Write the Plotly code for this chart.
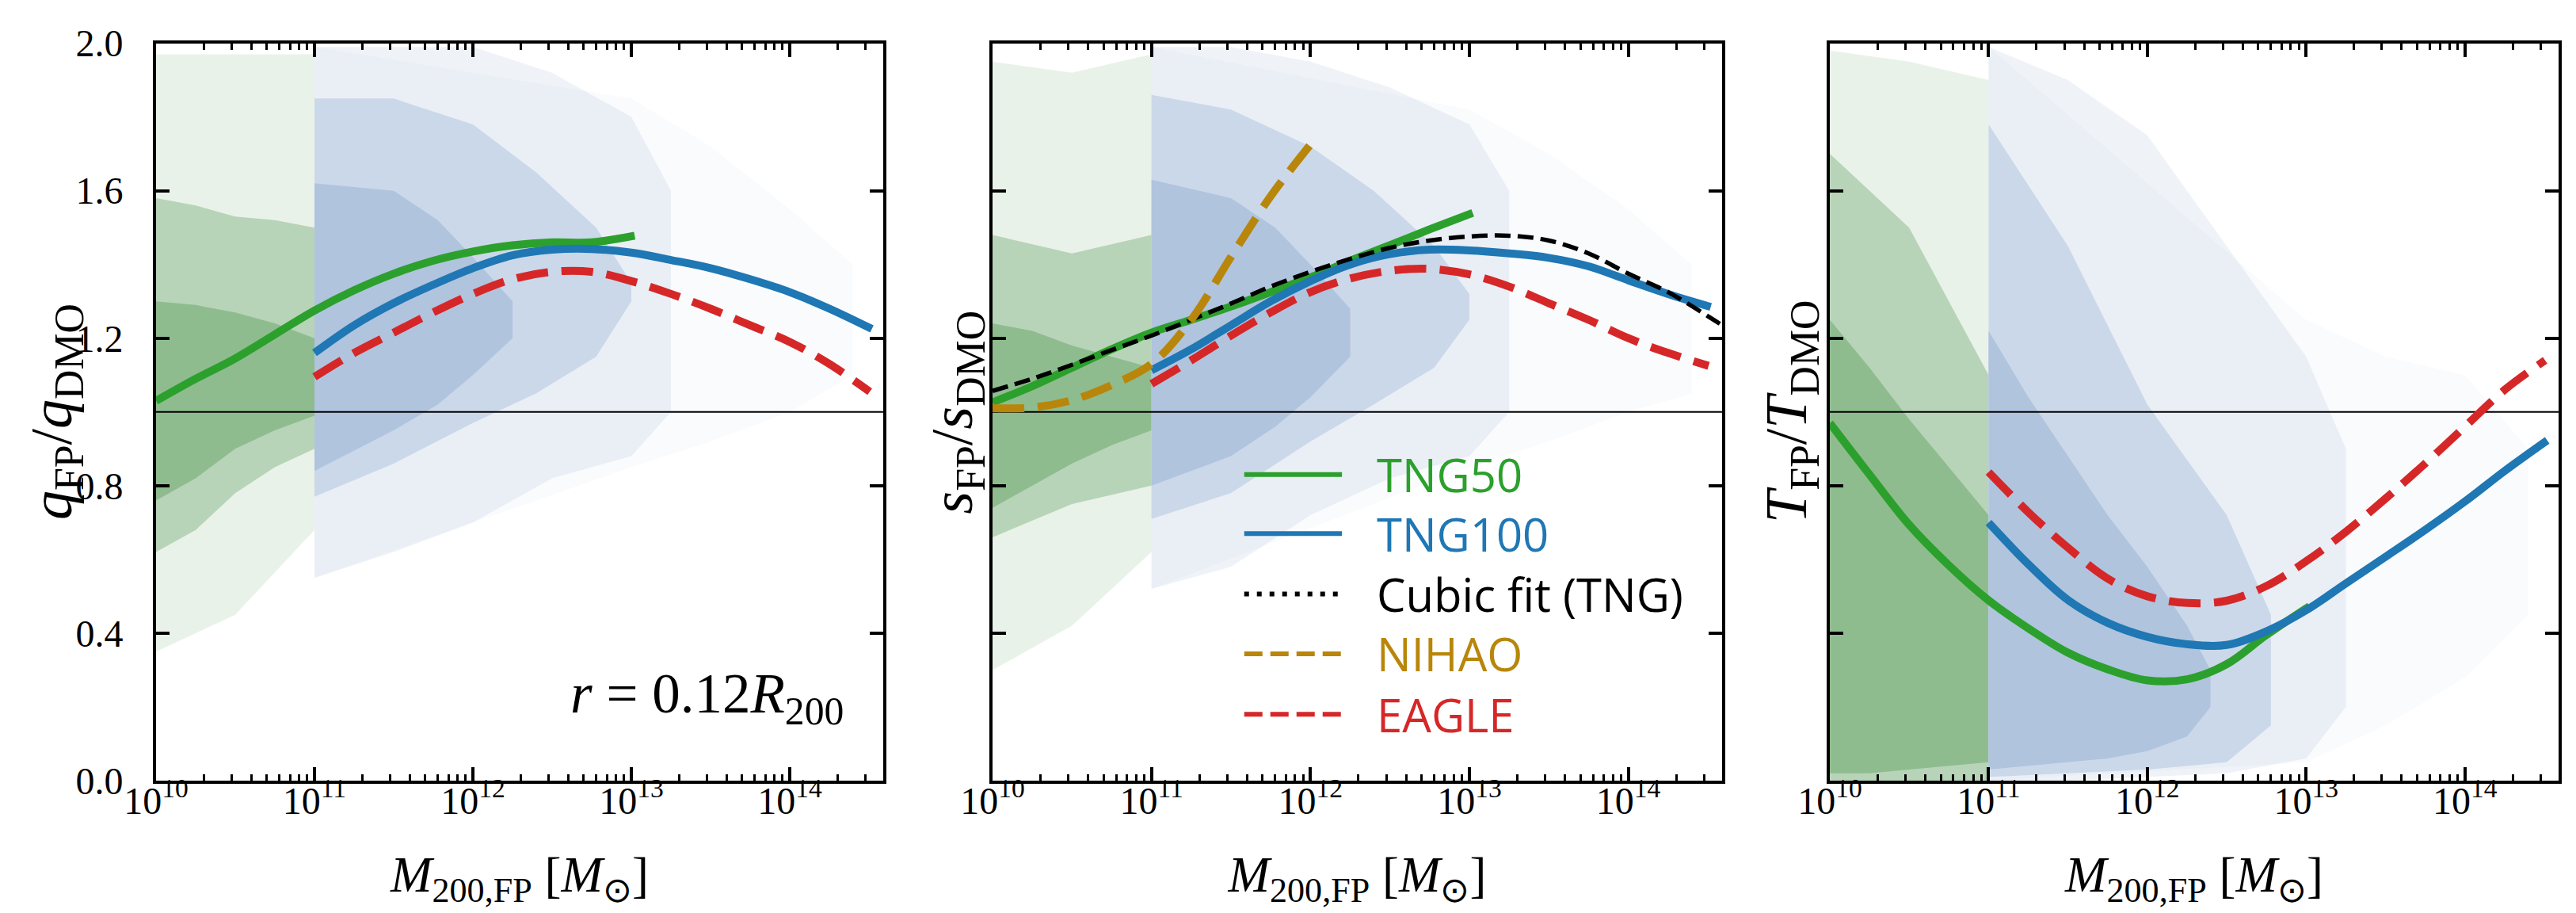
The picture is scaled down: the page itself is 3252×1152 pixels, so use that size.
import plotly.graph_objects as go
from plotly.subplots import make_subplots

M_TNG50 = [1e10, 1.78e10, 3.16e10, 5.62e10, 1e11, 1.78e11, 3.16e11, 5.62e11,
           1e12, 1.78e12, 3.16e12, 5.62e12, 1.05e13]
M_TNG100 = [1e11, 1.78e11, 3.16e11, 5.62e11, 1e12, 1.78e12, 3.16e12, 5.62e12,
            1e13, 1.78e13, 3.16e13, 5.62e13, 1e14, 1.78e14, 3.3e14]
M_EAGLE = [1e11, 1.78e11, 3.16e11, 5.62e11, 1e12, 1.78e12, 3.16e12, 5.62e12,
           1e13, 1.78e13, 3.16e13, 5.62e13, 1e14, 1.78e14, 3.2e14]
M_NIHAO = [1e10, 1.78e10, 3.16e10, 5.62e10, 1e11, 1.78e11, 3.16e11, 5.62e11, 1e12]
M_CUBIC = [1e10, 1.78e10, 3.16e10, 5.62e10, 1e11, 1.78e11, 3.16e11, 5.62e11,
           1e12, 1.78e12, 3.16e12, 5.62e12, 1e13, 1.78e13, 3.16e13, 5.62e13,
           1e14, 1.78e14, 3.16e14, 3.9e14]

# q_FP / q_DMO
Q_TNG50 = [1.03, 1.09, 1.145, 1.21, 1.275, 1.33, 1.375, 1.41, 1.435, 1.452, 1.46, 1.46, 1.478]
Q_TNG100 = [1.16, 1.235, 1.295, 1.345, 1.39, 1.425, 1.44, 1.442, 1.432, 1.412, 1.39, 1.36,
            1.325, 1.28, 1.225]
Q_EAGLE = [1.095, 1.16, 1.215, 1.27, 1.32, 1.36, 1.38, 1.38, 1.355, 1.32, 1.28, 1.235,
           1.19, 1.13, 1.055]

# s_FP / s_DMO
S_TNG50 = [1.026, 1.07, 1.12, 1.17, 1.215, 1.25, 1.286, 1.325, 1.365, 1.41, 1.452, 1.495, 1.54]
S_TNG100 = [1.113, 1.17, 1.235, 1.30, 1.355, 1.40, 1.428, 1.44, 1.438, 1.43, 1.418, 1.395,
            1.357, 1.32, 1.285]
S_EAGLE = [1.076, 1.14, 1.207, 1.27, 1.325, 1.362, 1.383, 1.388, 1.373, 1.34, 1.295, 1.25,
           1.2, 1.16, 1.125]
S_NIHAO = [1.01, 1.012, 1.032, 1.073, 1.13, 1.25, 1.42, 1.585, 1.725]
S_CUBIC = [1.057, 1.09, 1.128, 1.168, 1.207, 1.25, 1.294, 1.34, 1.38, 1.415, 1.445, 1.465,
           1.476, 1.478, 1.465, 1.43, 1.375, 1.325, 1.26, 1.235]

# T_FP / T_DMO
T_TNG50 = [0.97, 0.83, 0.694, 0.584, 0.489, 0.413, 0.347, 0.302, 0.272, 0.275, 0.316, 0.395, 0.473]
T_TNG100 = [0.70, 0.587, 0.49, 0.428, 0.39, 0.37, 0.368, 0.405, 0.462, 0.535, 0.607, 0.68,
            0.757, 0.84, 0.923]
T_EAGLE = [0.837, 0.728, 0.632, 0.548, 0.5, 0.482, 0.488, 0.528, 0.595, 0.675, 0.765, 0.86,
           0.96, 1.06, 1.14]

# halo clouds, read as density bands: (mass, lower edge, upper edge)
Q_GREEN_CORE = [(1e10, 0.76, 1.30), (1.78e10, 0.82, 1.29), (3.16e10, 0.90, 1.27),
                (5.62e10, 0.95, 1.24), (1e11, 0.99, 1.20)]
Q_GREEN_MID = [(1e10, 0.62, 1.58), (1.78e10, 0.68, 1.56), (3.16e10, 0.78, 1.53),
               (5.62e10, 0.85, 1.52), (1e11, 0.90, 1.50)]
Q_GREEN_SPARSE = [(1e10, 0.35, 1.97), (3.16e10, 0.45, 1.97), (1e11, 0.68, 1.97)]
Q_BLUE_CORE = [(1e11, 0.84, 1.62), (3.16e11, 0.95, 1.60), (6e11, 1.02, 1.52),
               (1e12, 1.10, 1.42), (1.78e12, 1.20, 1.30)]
Q_BLUE_MID = [(1e11, 0.77, 1.85), (3.16e11, 0.86, 1.85), (1e12, 0.97, 1.78),
              (2.5e12, 1.05, 1.65), (6e12, 1.15, 1.50), (1e13, 1.30, 1.35)]
Q_BLUE_SPARSE = [(1e11, 0.55, 1.99), (3.16e11, 0.62, 1.99), (1e12, 0.70, 1.99),
                 (3.16e12, 0.82, 1.92), (1e13, 0.88, 1.80), (1.78e13, 1.0, 1.6)]
Q_BLUE_FAINT = [(1e11, 0.55, 1.99), (1e13, 0.85, 1.85), (3.16e13, 0.92, 1.72),
                (1e14, 1.0, 1.55), (2.5e14, 1.1, 1.4)]

S_GREEN_CORE = [(1e10, 0.74, 1.24), (1.78e10, 0.80, 1.22), (3.16e10, 0.86, 1.18),
                (5.62e10, 0.91, 1.15), (1e11, 0.95, 1.12)]
S_GREEN_MID = [(1e10, 0.66, 1.48), (3.16e10, 0.75, 1.43), (1e11, 0.80, 1.48)]
S_GREEN_SPARSE = [(1e10, 0.30, 1.95), (3.16e10, 0.42, 1.92), (1e11, 0.62, 1.97)]
S_BLUE_CORE = [(1e11, 0.80, 1.63), (3.16e11, 0.88, 1.58), (6e11, 0.96, 1.50),
               (1e12, 1.04, 1.40), (1.78e12, 1.15, 1.28)]
S_BLUE_MID = [(1e11, 0.71, 1.86), (3.16e11, 0.78, 1.82), (1e12, 0.92, 1.72),
              (2.5e12, 1.02, 1.60), (6e12, 1.12, 1.45), (1e13, 1.25, 1.32)]
S_BLUE_SPARSE = [(1e11, 0.52, 1.99), (3.16e11, 0.58, 1.99), (1e12, 0.72, 1.95),
                 (3.16e12, 0.82, 1.88), (1e13, 0.88, 1.78), (1.78e13, 1.0, 1.6)]
S_BLUE_FAINT = [(1e11, 0.52, 1.99), (1e13, 0.85, 1.82), (3.16e13, 0.92, 1.70),
                (1e14, 1.0, 1.55), (2.5e14, 1.05, 1.4)]

T_GREEN_CORE = [(1e10, 0.02, 1.25), (1.78e10, 0.02, 1.12), (3.16e10, 0.03, 0.98),
                (5.62e10, 0.04, 0.85), (1e11, 0.05, 0.72)]
T_GREEN_MID = [(1e10, 0.0, 1.70), (3.16e10, 0.0, 1.50), (1e11, 0.0, 1.10)]
T_GREEN_SPARSE = [(1e10, 0.0, 1.98), (3.16e10, 0.0, 1.95), (1e11, 0.0, 1.90)]
T_BLUE_CORE = [(1e11, 0.03, 1.22), (1.78e11, 0.04, 1.04), (3.16e11, 0.05, 0.88),
               (5.62e11, 0.06, 0.72), (1e12, 0.08, 0.58), (1.78e12, 0.12, 0.42),
               (2.5e12, 0.20, 0.30)]
T_BLUE_MID = [(1e11, 0.01, 1.78), (3.16e11, 0.02, 1.45), (1e12, 0.03, 1.02),
              (3.16e12, 0.05, 0.72), (6e12, 0.15, 0.45)]
T_BLUE_SPARSE = [(1e11, 0.0, 1.99), (3.16e11, 0.0, 1.90), (1e12, 0.01, 1.75),
                 (3.16e12, 0.02, 1.45), (1e13, 0.06, 1.15), (1.78e13, 0.2, 0.9)]
T_BLUE_FAINT = [(1e11, 0.0, 1.99), (1e13, 0.05, 1.25), (3.16e13, 0.15, 1.15),
                (1e14, 0.28, 1.10), (2.5e14, 0.45, 0.90)]

X_TICKS = [1e10, 1e11, 1e12, 1e13, 1e14]
X_TICK_TEXT = ["10<sup>10</sup>", "10<sup>11</sup>", "10<sup>12</sup>",
               "10<sup>13</sup>", "10<sup>14</sup>"]
Y_TICKS = [0.0, 0.4, 0.8, 1.2, 1.6, 2.0]
LOG_M_RANGE = [10, 14.59]
UNITY = 1.0
LEGEND_LABELS = ["TNG50", "TNG100", "Cubic fit (TNG)", "NIHAO", "EAGLE"]
ANNOT_TEXT = "<i>r</i> = 0.12<i>R</i><sub>200</sub>"
X_TITLE = "<i>M</i><sub>200,FP</sub> [<i>M</i><sub>⊙</sub>]"
Y_TITLES = ["<i>q</i><sub>FP</sub>/<i>q</i><sub>DMO</sub>",
            "<i>s</i><sub>FP</sub>/<i>s</i><sub>DMO</sub>",
            "<i>T</i><sub>FP</sub>/<i>T</i><sub>DMO</sub>"]

GREEN, BLUE, RED, GOLD = "#2ca02c", "#1f77b4", "#d62728", "#b8860b"
GREEN_CLOUD, BLUE_CLOUD = (143, 188, 143), (176, 196, 222)
SERIF = "Liberation Serif"
SANS = "Open Sans"

# minor ticks at 2..9 x 10^n
minor_ticks = [k * 10.0 ** e for e in range(10, 15) for k in range(2, 10)]

fig = make_subplots(rows=1, cols=3)


def add_band(band, rgb, alpha, col):
    xs = [b[0] for b in band] + [b[0] for b in band[::-1]]
    ys = [b[1] for b in band] + [b[2] for b in band[::-1]]
    fig.add_trace(go.Scatter(x=xs, y=ys, mode="lines", fill="toself",
                             line=dict(width=0),
                             fillcolor="rgba(%d,%d,%d,%.2f)" % (rgb + (alpha,)),
                             hoverinfo="skip", showlegend=False), row=1, col=col)


def add_curve(x, y, color, col, width=10, dash="solid"):
    fig.add_trace(go.Scatter(x=x, y=y, mode="lines",
                             line=dict(color=color, width=width, dash=dash, shape="spline"),
                             showlegend=False), row=1, col=col)


clouds = {
    1: (Q_GREEN_SPARSE, Q_GREEN_MID, Q_GREEN_CORE, Q_BLUE_FAINT, Q_BLUE_SPARSE, Q_BLUE_MID, Q_BLUE_CORE),
    2: (S_GREEN_SPARSE, S_GREEN_MID, S_GREEN_CORE, S_BLUE_FAINT, S_BLUE_SPARSE, S_BLUE_MID, S_BLUE_CORE),
    3: (T_GREEN_SPARSE, T_GREEN_MID, T_GREEN_CORE, T_BLUE_FAINT, T_BLUE_SPARSE, T_BLUE_MID, T_BLUE_CORE),
}
for col, (gs, gm, gc, bf, bs, bm, bc) in clouds.items():
    add_band(gs, GREEN_CLOUD, 0.2, col)
    add_band(gm, GREEN_CLOUD, 0.55, col)
    add_band(gc, GREEN_CLOUD, 1.0, col)
    add_band(bf, BLUE_CLOUD, 0.07, col)
    add_band(bs, BLUE_CLOUD, 0.2, col)
    add_band(bm, BLUE_CLOUD, 0.55, col)
    add_band(bc, BLUE_CLOUD, 1.0, col)
    # y = 1 reference line
    fig.add_trace(go.Scatter(x=[10 ** LOG_M_RANGE[0], 10 ** LOG_M_RANGE[1]], y=[UNITY, UNITY],
                             mode="lines", line=dict(color="black", width=2),
                             hoverinfo="skip", showlegend=False), row=1, col=col)

DASH = "40px,17px"
add_curve(M_TNG50, Q_TNG50, GREEN, 1)
add_curve(M_TNG100, Q_TNG100, BLUE, 1)
add_curve(M_EAGLE, Q_EAGLE, RED, 1, dash=DASH)

add_curve(M_TNG50, S_TNG50, GREEN, 2)
add_curve(M_TNG100, S_TNG100, BLUE, 2)
add_curve(M_CUBIC, S_CUBIC, "black", 2, width=5.5, dash="20px,9px")
add_curve(M_NIHAO, S_NIHAO, GOLD, 2, dash=DASH)
add_curve(M_EAGLE, S_EAGLE, RED, 2, dash=DASH)

add_curve(M_TNG50, T_TNG50, GREEN, 3)
add_curve(M_TNG100, T_TNG100, BLUE, 3)
add_curve(M_EAGLE, T_EAGLE, RED, 3, dash=DASH)

x_domains = [[0.05812, 0.34040], [0.38284, 0.66605], [0.70787, 0.99077]]
y_domain = [0.1519, 0.9596]
y_title_x = [-0.138, -0.049, -0.053]

for i in range(3):
    fig.update_xaxes(type="log", range=LOG_M_RANGE, domain=x_domains[i],
                     tickmode="array", tickvals=X_TICKS, ticktext=X_TICK_TEXT,
                     ticks="inside", ticklen=17, tickwidth=3.5, tickcolor="black",
                     minor=dict(tickmode="array", tickvals=minor_ticks, ticks="inside",
                                ticklen=8, tickwidth=2.5, tickcolor="black", showgrid=False),
                     showline=True, linewidth=4, linecolor="black", mirror="ticks",
                     showgrid=False, zeroline=False,
                     tickfont=dict(family=SERIF, size=48, color="black"),
                     ticklabelstandoff=-20,
                     title=dict(text=X_TITLE,
                                font=dict(family=SERIF, size=63, color="black"), standoff=46),
                     automargin=False, row=1, col=i + 1)
    fig.update_yaxes(range=[0, 2], domain=y_domain, tickvals=Y_TICKS, tickformat=".1f",
                     ticks="inside", ticklen=17, tickwidth=3.5, tickcolor="black",
                     showline=True, linewidth=4, linecolor="black", mirror="ticks",
                     showgrid=False, zeroline=False, showticklabels=(i == 0),
                     tickfont=dict(family=SERIF, size=48, color="black"),
                     ticklabelstandoff=28,
                     automargin=False, row=1, col=i + 1)
    # y-axis label, placed as in the reference
    fig.add_annotation(x=y_title_x[i], y=0.5, xref="x%s domain" % ("" if i == 0 else i + 1),
                       yref="y%s domain" % ("" if i == 0 else i + 1),
                       text=Y_TITLES[i], textangle=-90, showarrow=False,
                       xanchor="center", yanchor="middle",
                       font=dict(family=SERIF, size=74, color="black"))

fig.add_annotation(x=0.948, y=0.225, xref="x domain", yref="y", text=ANNOT_TEXT,
                   showarrow=False, xanchor="right", yanchor="middle",
                   font=dict(family=SERIF, size=71, color="black"))

# legend, drawn in the middle panel
legend_styles = [(GREEN, "solid"), (BLUE, "solid"), ("black", "6px,10px"),
                 (GOLD, "23px,10px"), (RED, "23px,10px")]
row_y = [0.415, 0.335, 0.253, 0.172, 0.090]
for label, (color, dash), yy in zip(LEGEND_LABELS, legend_styles, row_y):
    fig.add_shape(type="line", xref="x2 domain", yref="y2 domain",
                  x0=0.345, x1=0.479, y0=yy, y1=yy,
                  line=dict(color=color, width=6, dash=dash))
    fig.add_annotation(x=0.524, y=yy, xref="x2 domain", yref="y2 domain", text=label,
                       showarrow=False, xanchor="left", yanchor="middle",
                       font=dict(family=SANS, size=58, color=color))

fig.update_layout(width=3252, height=1152, margin=dict(l=0, r=0, t=0, b=0),
                  paper_bgcolor="white", plot_bgcolor="white", showlegend=False,
                  font=dict(family=SERIF, color="black"))

fig.write_html("out.html")
